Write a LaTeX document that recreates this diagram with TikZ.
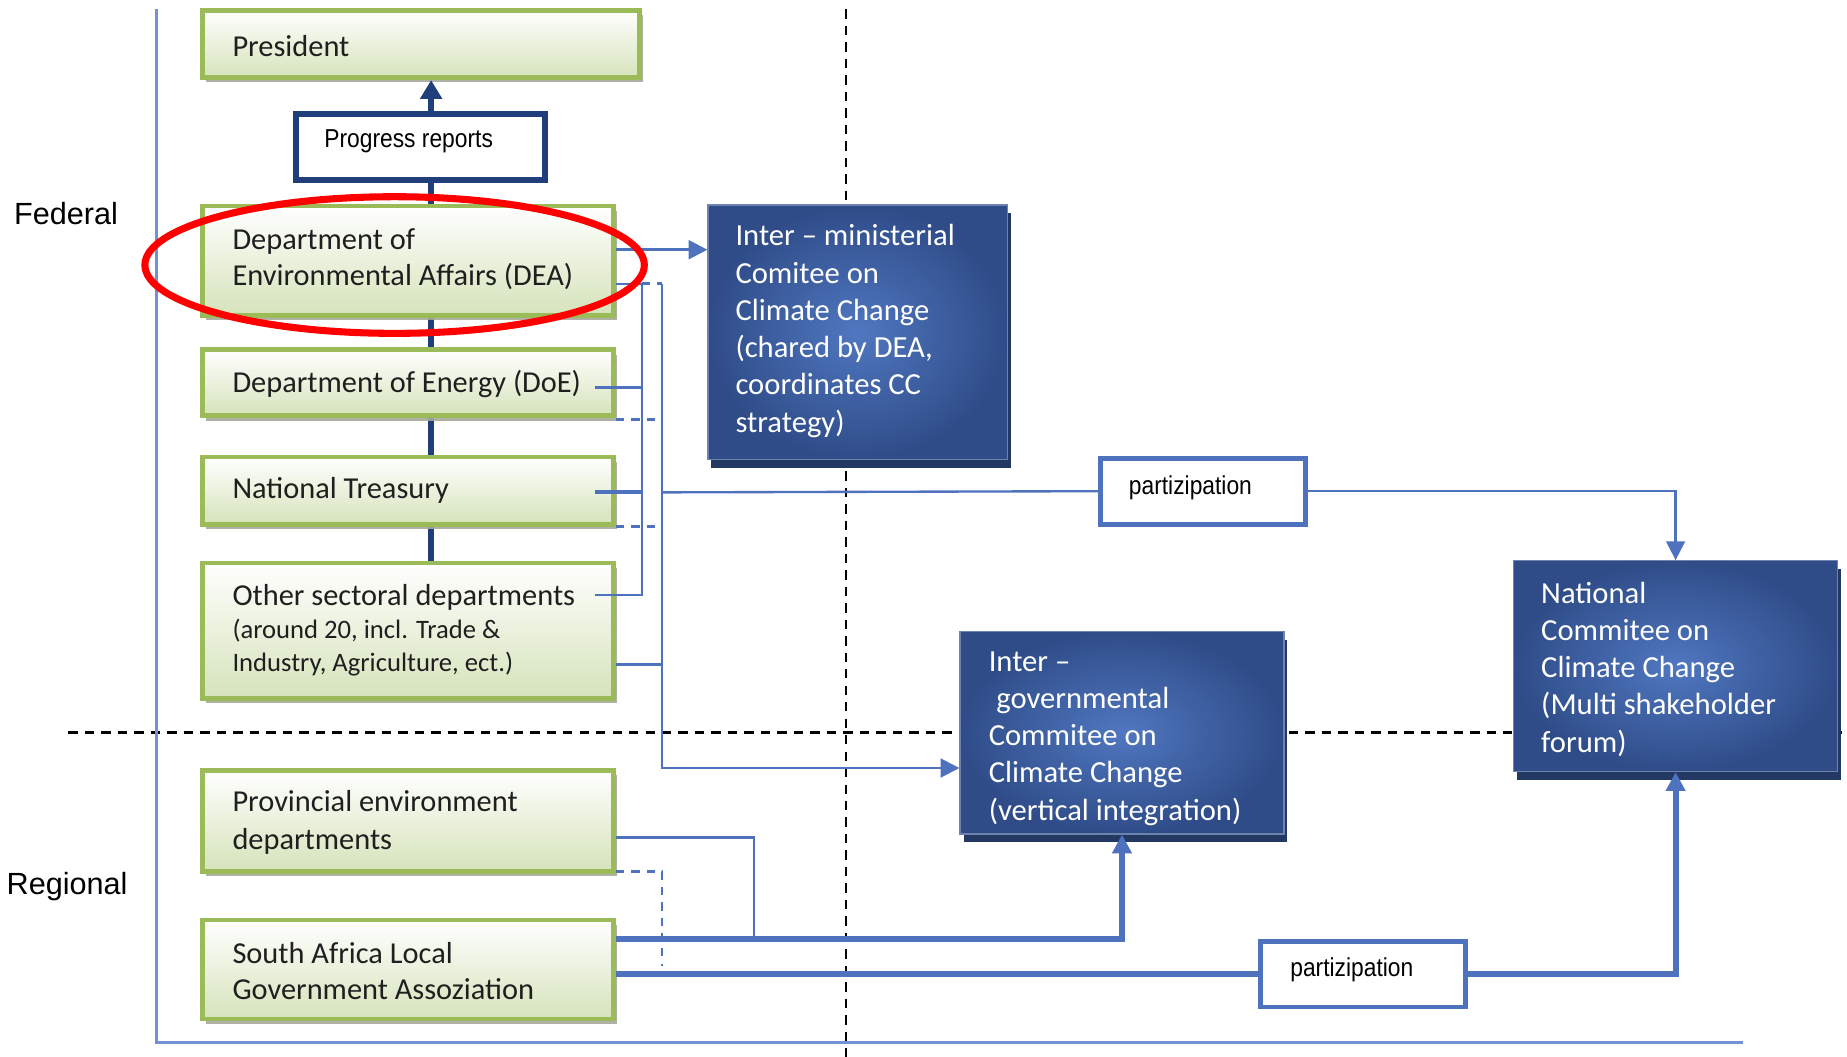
\documentclass[tikz,border=0pt]{standalone}
\usepackage{fontspec}
\setmainfont{Carlito}
\newfontfamily\arialf{Liberation Sans}
\newfontfamily\narrowf[FakeStretch=0.88]{Liberation Sans}
\usetikzlibrary{arrows.meta,shadows,backgrounds}
\definecolor{ggreen}{HTML}{9BBB59}
\definecolor{glight}{HTML}{D5E3BA}
\definecolor{gshadow}{HTML}{A6A89A}
\definecolor{bdark}{HTML}{2F4C88}
\definecolor{bmid}{HTML}{5077C0}
\definecolor{bshadow}{HTML}{233963}
\definecolor{cblue}{HTML}{4F72BE}
\definecolor{navy}{HTML}{203E7A}
\definecolor{framec}{HTML}{7391D2}
\begin{document}
\begin{tikzpicture}[x=0.5pt,y=-0.5pt,
  gbox/.style={draw=ggreen, line width=2pt, top color=white, bottom color=glight,
    minimum width=174.5pt, inner sep=0pt,
    drop shadow={shadow xshift=1.5pt, shadow yshift=-2pt, fill=gshadow, opacity=0.9}},
  bbox/.style={draw=bdark!70!white, line width=0.5pt, inner color=bmid, outer color=bdark,
    inner sep=0pt,
    drop shadow={shadow xshift=1.5pt, shadow yshift=-3.5pt, fill=bshadow, opacity=1}},
  pbox/.style={draw=cblue, line width=2pt, fill=white, inner sep=0pt,
    minimum width=87pt, minimum height=28pt},
  gtext/.style={anchor=west, inner sep=0pt, align=left, text=black!88,
    font=\fontsize{12.9}{15.5}\selectfont},
  btext/.style={anchor=west, inner sep=0pt, align=left, text=white,
    font=\fontsize{13}{15.8}\selectfont},
  ntext/.style={anchor=west, inner sep=0pt, text=black,
    font=\narrowf\fontsize{11}{13}\selectfont},
  lvl/.style={inner sep=0pt, text=black, font=\arialf\fontsize{13}{15}\selectfont},
  cline/.style={draw=cblue, line width=1pt},
  cdash/.style={draw=cblue, line width=1.2pt, dash pattern=on 3.5pt off 3pt},
  thickc/.style={draw=cblue, line width=2.6pt},
  navyl/.style={draw=navy, line width=2.5pt},
  dashl/.style={draw=black, line width=1pt, dash pattern=on 4pt off 3pt},
  tip/.style={-{Triangle[length=8pt,width=8pt]}},
  bigtip/.style={-{Triangle[length=8pt,width=8pt]}}
]
\useasboundingbox (0,0) rectangle (1568,897);

% ---------- frame and level labels ----------
\coordinate (ftop) at (133,8);
\coordinate (fcorner) at (133,885);
\coordinate (fend) at (1480,885);
\draw[framec, line width=1pt] (ftop) -- (fcorner) -- (fend);
\node[lvl] (federal) at (56,181) {Federal};
\node[lvl] (regional) at (57,753) {Regional};

% ---------- green boxes ----------
\node[gbox, minimum width=185.5pt, minimum height=28.5pt] (pres) at (357.5,37.5) {};
\node[gbox, minimum height=46.5pt] (dea) at (346.5,221.5) {};
\node[gbox, minimum height=28pt] (doe) at (346.5,325) {};
\node[gbox, minimum height=28.5pt] (nt) at (346.5,416.5) {};
\node[gbox, minimum height=57.5pt] (other) at (346.5,535.5) {};
\node[gbox, minimum height=43pt] (prov) at (346.5,697) {};
\node[gbox, minimum height=42pt] (salga) at (346.5,823) {};

\node[gtext] (prest) at (197,39) {President};
\node[gtext] (deat) at (197,220) {Department of\\Environmental Affairs (DEA)};
\node[gtext] (doet) at (197,326) {Department of Energy (DoE)};
\node[gtext] (ntt) at (197,416) {National Treasury};
\node[gtext, font=\fontsize{11.3}{14}\selectfont] (othert) at (197,535)
  {{\fontsize{12.9}{14}\selectfont Other sectoral departments}\\(around 20, incl. Trade \&\\Industry, Agriculture, ect.)};
\node[gtext, font=\fontsize{12.9}{16}\selectfont] (provt) at (197,698) {Provincial environment\\departments};
\node[gtext] (salgat) at (197,824.5) {South Africa Local\\Government Assoziation};

% ---------- progress reports ----------
\node[draw=navy, line width=2.5pt, fill=white, inner sep=0pt,
  minimum width=105.5pt, minimum height=28pt] (prog) at (357,124.5) {};
\node[ntext] (progt) at (275,120) {Progress reports};

% ---------- blue boxes ----------
\node[bbox, minimum width=127pt, minimum height=108pt] (imc) at (728,282) {};
\node[btext] (imct) at (624,281) {Inter – ministerial\\Comitee on\\Climate Change\\(chared by DEA,\\coordinates CC\\strategy)};
\node[bbox, minimum width=137.5pt, minimum height=86pt] (igc) at (952.5,622) {};
\node[btext] (igct) at (839,627) {Inter –\\\hspace{0.25em}governmental\\Commitee on\\Climate Change\\(vertical integration)};
\node[bbox, minimum width=137.5pt, minimum height=89.5pt] (ncc) at (1422.5,565.5) {};
\node[btext] (ncct) at (1308,568) {National\\Commitee on\\Climate Change\\(Multi shakeholder\\forum)};

% ---------- partizipation boxes ----------
\node[pbox] (part1) at (1021,417) {};
\node[ntext] (part1t) at (958,414) {partizipation};
\node[pbox] (part2) at (1157,827) {};
\node[ntext] (part2t) at (1095,823) {partizipation};

% ---------- background lines ----------
\coordinate (navx) at (366,0);
\coordinate (vdtop) at (718,8);
\coordinate (vdbot) at (718,897);
\coordinate (hdl) at (58,622);
\coordinate (hdr) at (1568,622);
\begin{scope}[on background layer]
  \draw[dashl] (vdtop) -- (vdbot);
  \draw[dashl] (hdl) -- (hdr);
  \draw[navyl] (prog.south -| navx) -- (other.north -| navx);
\end{scope}
\draw[navyl, -{Triangle[length=8pt,width=9pt]}] (prog.north -| navx) -- (pres.south -| navx);

% ---------- federal connectors ----------
\coordinate (b1top) at (545,241);
\coordinate (b1bot) at (545,505);
\coordinate (b2top) at (562,241);
\coordinate (b2bot) at (562,652);
\coordinate (does) at (505,329);
\coordinate (nts) at (505,418);
\coordinate (oths) at (505,505);
\coordinate (b2nt) at (562,418);

\draw[cline, line width=1.3pt, tip] (dea.east |- 0,212) -- (imc.west |- 0,212);
\draw[cline] (dea.east |- b1top) -- (b1top) -- (b1bot) -- (oths);
\draw[cline] (does) -- (does -| b1top);
\draw[cline, line width=1.7pt] (nts) -- (nts -| b1top);
\draw[cdash] (b1top) -- (b2top);
\draw[cline, tip] (b2top) -- (b2bot) -- (igc.west |- b2bot);
\draw[cdash] (doe.east |- 0,356) -- (562,356);
\draw[cdash] (nt.east |- 0,447) -- (562,447);
\draw[cline] (other.east |- 0,564) -- (562,564);
\draw[cline] (b2nt) -- (part1.west);
\draw[cline, tip] (part1.east) -| (ncc.north);

% ---------- regional connectors ----------
\coordinate (pj) at (640,797);
\coordinate (pdj) at (562,820);
\draw[cline] (prov.east |- 0,711) -| (pj);
\draw[cdash] (prov.east |- 0,740) -| (pdj);
\draw[thickc, bigtip] (salga.east |- pj) -| (igc.south);
\draw[thickc] (salga.east |- part2.west) -- (part2.west);
\draw[thickc, bigtip] (part2.east) -| (ncc.south);

% ---------- highlight ----------
\draw[red, line width=3pt] (335,225) ellipse [x radius=106pt, y radius=29pt];
\end{tikzpicture}
\end{document}
